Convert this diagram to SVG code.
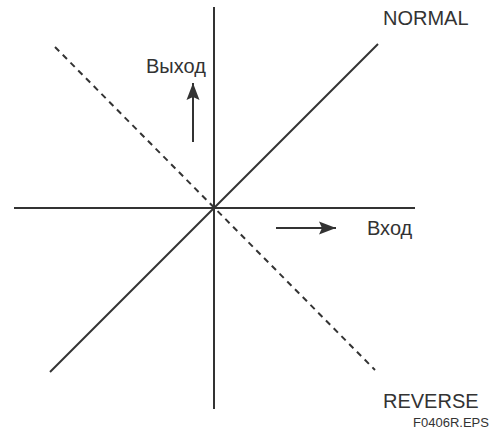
<svg xmlns="http://www.w3.org/2000/svg" width="492" height="439" viewBox="0 0 492 439">
<style>
.ln{stroke:#333;stroke-width:2;fill:none}
.ds{stroke-dasharray:6 5}
.t{font-family:"Liberation Sans",Arial,sans-serif;fill:#333;font-size:20px}
</style>
<defs>
<marker id="ah" markerWidth="18" markerHeight="14" refX="17" refY="7" orient="auto" markerUnits="userSpaceOnUse">
<path d="M0,0.5 L17,7 L0,13.5 L3,7 Z" fill="#333"/>
</marker>
</defs>
<rect width="492" height="439" fill="#fff"/>
<g id="axes">
<line id="y-axis" class="ln" x1="214" y1="7" x2="214" y2="409"/>
<line id="x-axis" class="ln" x1="14" y1="208" x2="415" y2="208"/>
</g>
<g id="connectors">
<line id="normal" class="ln" x1="50" y1="372" x2="378" y2="44"/>
<line id="reverse" class="ln ds" x1="55" y1="47" x2="375" y2="370"/>
<line id="out-arrow" class="ln" x1="193" y1="142" x2="193" y2="83" marker-end="url(#ah)"/>
<line id="in-arrow" class="ln" x1="276" y1="228" x2="336" y2="228" marker-end="url(#ah)"/>
</g>
<g id="labels">
<text class="t" x="146" y="73">Выход</text>
<text class="t" x="367" y="235">Вход</text>
<text class="t" x="383" y="25">NORMAL</text>
<text class="t" x="383" y="408">REVERSE</text>
<text class="t" x="413" y="427" font-size="12" style="font-size:12px" textLength="76" lengthAdjust="spacingAndGlyphs">F0406R.EPS</text>
</g>
</svg>
